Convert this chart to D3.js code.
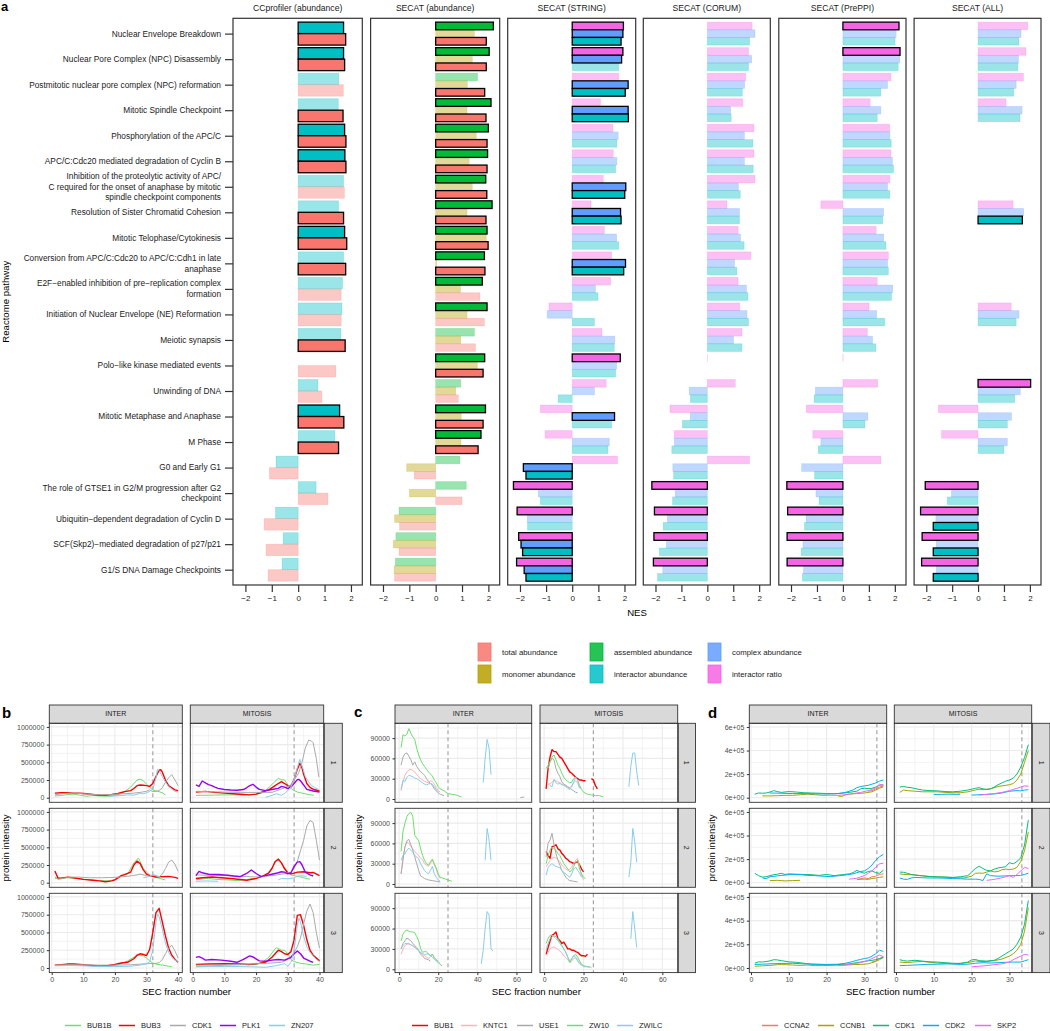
<!DOCTYPE html>
<html><head><meta charset="utf-8">
<script src="https://cdn.jsdelivr.net/npm/d3@7"></script>
<style>body{margin:0;background:#fff}svg{font-family:"Liberation Sans",Arial,Helvetica,sans-serif}</style>
</head><body><svg id="chart" width="1050" height="1031"></svg>
<script>
// ---------------- Panel a data ----------------
const pathways = [
 "Nuclear Envelope Breakdown",
 "Nuclear Pore Complex (NPC) Disassembly",
 "Postmitotic nuclear pore complex (NPC) reformation",
 "Mitotic Spindle Checkpoint",
 "Phosphorylation of the APC/C",
 "APC/C:Cdc20 mediated degradation of Cyclin B",
 "Inhibition of the proteolytic activity of APC/\nC required for the onset of anaphase by mitotic\nspindle checkpoint components",
 "Resolution of Sister Chromatid Cohesion",
 "Mitotic Telophase/Cytokinesis",
 "Conversion from APC/C:Cdc20 to APC/C:Cdh1 in late\nanaphase",
 "E2F\u2212enabled inhibition of pre\u2212replication complex\nformation",
 "Initiation of Nuclear Envelope (NE) Reformation",
 "Meiotic synapsis",
 "Polo\u2212like kinase mediated events",
 "Unwinding of DNA",
 "Mitotic Metaphase and Anaphase",
 "M Phase",
 "G0 and Early G1",
 "The role of GTSE1 in G2/M progression after G2\ncheckpoint",
 "Ubiquitin\u2212dependent degradation of Cyclin D",
 "SCF(Skp2)\u2212mediated degradation of p27/p21",
 "G1/S DNA Damage Checkpoints"
];
const facetNames = ["CCprofiler (abundance)","SECAT (abundance)","SECAT (STRING)","SECAT (CORUM)","SECAT (PrePPI)","SECAT (ALL)"];
const nesTicks = [-2,-1,0,1,2];
const levelNames = ["total abundance","monomer abundance","assembled abundance","interactor abundance","complex abundance","interactor ratio"];
const levelColors = ["#F8766D","#B79F00","#00BA38","#00BFC4","#619CFF","#F564E3"];

const cc_interactor = [1.72,1.72,1.54,1.52,1.76,1.77,1.72,1.53,1.76,1.72,1.68,1.66,1.62,0.0,0.75,1.57,1.39,-0.84,0.68,-0.86,-0.57,-0.61];
const cc_interactor_sig = [1,1,0,0,1,1,0,0,1,0,0,0,0,0,0,1,0,0,0,0,0,0];
const cc_total = [1.80,1.76,1.71,1.70,1.81,1.81,1.75,1.72,1.84,1.80,1.63,1.63,1.78,1.43,0.90,1.73,1.53,-1.09,1.13,-1.29,-1.22,-1.14];
const cc_total_sig = [1,1,0,1,1,1,0,1,1,1,0,0,1,0,0,1,1,0,0,0,0,0];

const sa_assembled = [2.19,2.03,1.59,2.10,2.00,1.97,1.90,2.14,1.95,1.85,1.77,1.95,1.47,1.86,0.95,1.89,1.72,0.92,1.16,-1.39,-1.51,-1.53];
const sa_assembled_sig = [1,1,0,1,1,1,1,1,1,1,1,1,0,1,0,1,1,0,0,0,0,0];
const sa_monomer = [1.47,1.39,1.20,1.19,1.54,1.27,1.39,1.19,1.92,0.04,0.94,1.19,0.95,1.58,0.76,0.97,0.96,-1.10,-1.00,-1.56,-1.61,-1.58];
const sa_monomer_sig = [0,0,0,0,0,0,0,0,0,0,0,0,0,0,0,0,0,0,0,0,0,0];
const sa_total = [1.92,1.92,1.86,1.91,1.95,1.95,1.94,1.91,1.99,1.87,1.68,1.85,1.51,1.80,0.86,1.80,1.61,-0.81,1.00,-1.37,-1.39,-1.56];
const sa_total_sig = [1,1,1,1,1,1,1,1,1,1,0,0,0,1,0,1,1,0,0,0,0,0];

const st_ratio = [1.96,1.94,1.78,1.08,1.56,1.57,1.19,0.72,1.23,1.51,1.47,-0.89,1.14,1.84,1.30,-1.22,-1.04,1.73,-2.25,-2.11,-2.05,-2.13];
const st_ratio_sig = [1,1,0,0,0,0,0,0,0,0,0,0,0,1,0,0,0,0,1,1,1,1];
const st_complex = [1.94,1.89,2.14,2.14,1.76,1.71,2.05,1.85,1.70,2.04,0.89,-0.96,1.63,1.70,0.85,1.62,1.42,-1.87,-1.30,-1.72,-1.96,-1.84];
const st_complex_sig = [1,1,1,1,0,0,1,1,0,1,0,0,0,0,0,1,0,1,0,0,1,1];
const st_interactor = [1.87,1.78,2.03,2.15,1.71,1.66,2.01,1.87,1.78,1.97,0.99,0.85,1.61,1.66,-0.54,1.51,1.37,-1.77,-1.22,-1.71,-1.90,-1.77];
const st_interactor_sig = [1,0,1,1,0,0,1,1,0,1,0,0,0,0,0,0,0,1,0,0,1,1];

const co_ratio = [1.73,1.59,1.48,1.37,1.80,1.80,1.84,0.76,1.19,1.68,1.19,1.25,1.34,0.01,1.08,-1.44,-1.28,1.63,-2.14,-2.04,-2.06,-2.08];
const co_ratio_sig = [0,0,0,0,0,0,0,0,0,0,0,0,0,0,0,0,0,0,1,1,1,1];
const co_complex = [1.84,1.71,1.44,0.90,1.43,1.43,1.20,1.24,1.28,1.05,1.51,1.53,1.01,0,-0.70,-0.66,-1.27,-1.33,-1.24,-1.54,-1.58,-1.72];
const co_complex_sig = [0,0,0,0,0,0,0,0,0,0,0,0,0,0,0,0,0,0,0,0,0,0];
const co_interactor = [1.63,1.59,1.35,0.92,1.76,1.77,1.27,1.24,1.42,1.14,1.57,1.59,1.34,0,-0.65,-0.96,-1.37,-1.30,-1.34,-1.70,-1.85,-1.92];
const co_interactor_sig = [0,0,0,0,0,0,0,0,0,0,0,0,0,0,0,0,0,0,0,0,0,0];

const pp_ratio = [2.16,2.20,1.85,1.05,1.80,1.85,1.81,-0.85,1.28,1.75,1.32,1.01,0.94,0.01,1.34,-1.41,-1.16,1.46,-2.16,-2.13,-2.15,-2.15];
const pp_ratio_sig = [1,1,0,0,0,0,0,0,0,0,0,0,0,0,0,0,0,0,1,1,1,1];
const pp_complex = [2.05,2.19,1.72,1.46,1.81,1.91,1.72,1.57,1.57,1.72,1.92,1.30,1.14,0,-1.06,0.96,-0.85,-1.59,-1.04,-1.42,-1.54,-1.52];
const pp_complex_sig = [0,0,0,0,0,0,0,0,0,0,0,0,0,0,0,0,0,0,0,0,0,0];
const pp_interactor = [2.01,2.13,1.46,1.32,1.86,1.95,1.81,1.53,1.66,1.75,1.87,1.61,1.27,0,-1.11,0.85,-0.95,-1.09,-0.92,-1.48,-1.61,-1.56];
const pp_interactor_sig = [0,0,0,0,0,0,0,0,0,0,0,0,0,0,0,0,0,0,0,0,0,0];

const al_ratio = [1.92,1.85,1.75,1.08,0,0,0,1.35,0,0,0,1.28,0,0,2.03,-1.53,-1.41,0,-2.04,-2.22,-2.16,-2.18];
const al_ratio_sig = [0,0,0,0,0,0,0,0,0,0,0,0,0,0,1,0,0,0,1,1,1,1];
const al_complex = [1.66,1.56,1.47,1.70,0,0,0,1.76,0,0,0,1.58,0,0,1.63,1.29,1.13,0,-1.03,-1.63,-1.62,-1.61];
const al_complex_sig = [0,0,0,0,0,0,0,0,0,0,0,0,0,0,0,0,0,0,0,0,0,0];
const al_interactor = [1.58,1.54,1.38,1.62,0,0,0,1.71,0,0,0,1.47,0,0,1.42,1.13,1.00,0,-1.19,-1.73,-1.73,-1.73];
const al_interactor_sig = [0,0,0,0,0,0,0,1,0,0,0,0,0,0,0,0,0,0,0,1,1,1];

// ---------------- Panels b, c, d data (x = SEC fraction, y = intensity in thousands) ----------------
const conditions = ["INTER","MITOSIS"];
const replicates = ["1","2","3"];
const bProteins = ["BUB1B","BUB3","CDK1","PLK1","ZN207"];
const bColors = ["#6BE06B","#FF0000","#AAAAAA","#9B00F5","#87CEEB"];
const bXTicks = [0,10,20,30,40];
const bYTicks = [0,250000,500000,750000,1000000];
const bCutoff = 32;
const bSeries = [
 ["INTER","1","BUB1B",[1,25,3,30,5,45,7,50,9,35,11,20,13,30,15,25,17,20,19,25,21,40,23,80,25,150,27,250,28,262,29,240,30,190,31,150,32,110,33,95,34,85,35,70,36,40]],
 ["INTER","1","BUB3",[1,65,3,70,5,72,7,65,9,62,11,55,13,45,15,35,17,35,19,45,21,60,23,85,25,100,26,130,27,170,28,180,29,175,30,170,31,160,32,200,33,300,34,390,34.5,395,35,360,36,250,37,170,38,140,39,110,40,100]],
 ["INTER","1","CDK1",[1,40,4,60,7,65,10,55,13,45,16,40,19,45,22,55,25,60,28,75,30,90,31,110,32,85,33,90,34,100,35,140,36,220,37,280,38,325,39,250,40,170]],
 ["INTER","1","ZN207",[18,20,20,25,22,30,24,40,26,35,27,50,28,60,29,55,30,70,31,90,32,120,33,280,33.5,400,34,380,35,300,36,220,37,160,38,120,39,90,40,80]],
 ["MITOSIS","1","BUB1B",[1,33,5,35,10,40,15,40,20,47,22,70,24,140,25.5,210,27,273,28,255,29,250,30,180,31.3,117,33,80,34,70,36,50,38.2,33]],
 ["MITOSIS","1","BUB3",[1,80,4,90,7,75,10,65,13,55,16,45,18,40,20,50,22,80,24,110,26,170,27,200,28,226,29,200,30,170,31,165,32,260,33,400,33.8,486,34.5,420,35,330,36,200,37,146,38,120,40,95]],
 ["MITOSIS","1","CDK1",[1,90,5,85,10,80,15,75,20,75,25,75,27.6,117,30,160,31,180,32,250,33.4,344,34.5,500,35.5,700,36.6,815,37.5,800,38,777,39,550,39.8,292]],
 ["MITOSIS","1","PLK1",[1,180,2,160,3,236,4,210,5,185,6,170,7,150,8,132,10,115,12,109,14,105,16,115,17,140,18,170,19,189,20,150,21,117,23,100,25,115,27,132,28,160,29,150,30,130,31,150,32,200,33,255,33.5,259,34,240,35,180,36,117,38,95,40,80]],
 ["MITOSIS","1","ZN207",[23,5,25,33,26.5,55,28,33,29,60,30,100,31,150,32,260,33,420,33.8,542,34.5,450,35.5,300,36.5,230,37.5,170,38.5,146,39.8,110]],
 ["INTER","2","BUB1B",[1,60,5,70,10,50,15,30,18,25,20,45,22,95,24,120,26,280,27,330,27.5,344,28,300,29,200,30,150,31,110,33,75,35,50,36,38]],
 ["INTER","2","BUB3",[1,165,2,65,3,65,5,78,7,70,10,47,13,35,15,25,17,14,19,25,20,40,22,100,23,115,25,150,26,250,27,305,28,270,29,180,30,120,31,100,32,90,33,80,35,85,37,90,39,75,40,60]],
 ["INTER","2","CDK1",[1,85,2,47,3,55,5,75,8,80,12,70,16,70,20,75,24,90,27,110,28,120,30,100,31,90,32,105,33,100,34,85,35,120,36,200,37,290,38,320,39,260,40,160]],
 ["INTER","2","ZN207",[29,70,31,90,32,115,33,100,34,80,35,70]],
 ["MITOSIS","2","BUB1B",[1,40,3,55,5,60,8,45,11,40,14,30,17,45,20,60,22,90,24,130,26,280,27,345,28,280,29,180,30,140,31,110,33,90,35,70,37,50]],
 ["MITOSIS","2","BUB3",[1,60,3,70,6,80,9,70,12,60,15,45,17,35,20,60,22,90,24,140,25,200,26,300,27,330,28,280,29,200,30,140,31,125,32,135,33,150,35,155,37,140,38,145,40,100]],
 ["MITOSIS","2","CDK1",[1,110,5,105,10,100,15,90,20,80,25,100,28,120,30,140,31,150,32,200,33,300,34,450,35,600,36,800,37,880,38,850,39,600,40,320]],
 ["MITOSIS","2","PLK1",[1,100,2,160,3,140,5,120,8,115,11,105,13,94,15,85,17,130,18.5,180,20,130,21.5,90,23,100,25,120,27,140,28,155,29,150,30,125,31,140,32,230,33,290,33.8,297,34.5,250,35.5,150,37,110,38,95]],
 ["MITOSIS","2","ZN207",[1,20,4,25,8,20,null,null,27,40,28,60,30,55,32,70,33,90,34,100,36,90]],
 ["INTER","3","BUB1B",[1,40,3,45,5,55,8,45,11,35,14,30,17,25,20,35,22,60,24,100,26,150,27,175,28,180,29,170,30,140,31,100,32,70,33,55,35,40,37,25,38,15]],
 ["INTER","3","BUB3",[1,40,3,45,5,55,7,55,10,45,13,35,15,30,18,35,20,50,22,70,24,80,26,130,27,180,28,200,29,190,30,175,31,260,32,500,33,780,34,840,35,650,36,450,37,280,38,180,39,120,40,80]],
 ["INTER","3","CDK1",[1,40,5,45,10,45,15,40,20,40,25,45,30,60,33,65,34,75,35,120,36,200,37,280,38,320,39,240,40,140]],
 ["INTER","3","ZN207",[1,30,5,35,10,30,15,20,20,20,25,25,28,40,30,60,31,90,32,250,33,650,33.5,760,34,720,35,550,36,350,37,220,38,150,39,110,40,90]],
 ["MITOSIS","3","BUB1B",[1,20,5,25,10,40,15,45,20,50,22,80,24,150,26,270,26.5,285,28,250,29,250,30,200,31,120,32,90,34,65,36,55,38,40,40,50]],
 ["MITOSIS","3","BUB3",[1,50,5,55,10,60,15,55,18,50,21,65,23,80,25,150,27,250,28,230,29,200,30,190,31,230,32,400,33,740,34,750,35,600,36,400,37,250,38,180,40,100]],
 ["MITOSIS","3","CDK1",[1,40,5,40,10,45,15,50,20,60,25,70,28,80,30,120,31,160,32,220,33,300,34,420,35,620,36,800,37,900,38,780,39,500,40,280]],
 ["MITOSIS","3","PLK1",[1,150,2,160,3,140,4,110,6,120,9,110,12,95,14,80,16,120,18,170,19,155,21,100,23,95,25,110,27,120,29,110,31,150,32,200,33,240,34,200,35,140,37,95,38,80]],
 ["MITOSIS","3","ZN207",[1,15,5,20,10,20,15,20,20,15,23,10,26,30,28,50,29,60,30,25,31,80,32,250,33,600,33.5,700,34,650,35,450,36,300,37,220,38,170,39,120,40,90]]
];

const cProteins = ["BUB1","KNTC1","USE1","ZW10","ZWILC"];
const cColors = ["#FF0000","#FFB0B8","#AAAAAA","#6BE06B","#87CEEB"];
const cXTicks = [0,20,40,60];
const cYTicks = [0,30000,60000,90000];
const cCutoff = 25;
const cSeries = [
 ["INTER","1","KNTC1",[1,12,2,25,3,35,4,40,5,43,6,44,7,42,8,40,9,36,10,33,11,30,12,28,13,26,14,25,15,24,16,27,17,26,18,22,19,17,20,13,21,10]],
 ["INTER","1","USE1",[1,50,2,62,3,67,4,68,5,63,6,58,7,50,8,55,9,48,10,44,11,40,12,38,13,35,14,30,15,26,16,23,17,20,18,15,19,12,20,9,21,7,23,5,null,null,62,2,64,3]],
 ["INTER","1","ZW10",[1,76,2,95,3,93,4,96,5,104,6,97,7,92,8,88,9,75,10,65,11,58,12,52,13,48,14,44,15,40,16,37,17,34,18,28,19,24,20,18,21,15,23,12,25,8,27,7,29,6,30,5,32,3]],
 ["INTER","1","ZWILC",[1,15,2,28,3,26,4,32,5,35,6,34,7,33,8,31,9,30,10,28,11,26,12,24,13,22,14,21,15,22,16,23,17,22,18,18,19,14,20,10,null,null,43,24,44,60,45,88,46,75,47,36]],
 ["MITOSIS","1","BUB1",[1,15,2,45,3,62,4,73,5,70,6,70,7,66,8,62,9,60,10,55,11,50,12,45,13,40,14,38,15,35,16,32,17,30,18,28,19,28,20,27,21,27,null,null,24,30,25,28,26,20,27,15]],
 ["MITOSIS","1","KNTC1",[2,22,3,22,4,25,5,28,6,27,7,25,8,24,9,22,10,21,11,20,12,18,13,17,14,19,15,24,16,27,17,23,18,16]],
 ["MITOSIS","1","USE1",[2,45,3,55,4,60,5,58,6,45,7,38,8,33,9,25,10,22,11,20,12,18,13,16,14,14,15,12,16,10,17,9]],
 ["MITOSIS","1","ZW10",[1,45,2,50,3,55,4,62,5,65,6,58,7,50,8,45,9,38,10,32,11,28,12,26,13,24,14,25,15,30,16,32,17,28,18,20,19,14,20,10,22,7,24,6,26,5,28,5,30,3]],
 ["MITOSIS","1","ZWILC",[3,20,4,18,5,29,6,24,7,22,8,23,9,21,10,20,11,18,12,16,13,14,14,18,15,25,16,32,17,28,18,16,null,null,43,18,44,48,45,68,46,68,47,40,48,20]],
 ["INTER","2","KNTC1",[1,15,2,40,3,55,4,62,5,60,6,56,7,52,8,48,9,45,10,42,11,38,12,36,13,30,14,28,15,26,16,30,17,35,18,28,19,22,20,12,21,8]],
 ["INTER","2","USE1",[1,15,2,35,3,55,4,64,5,66,6,58,7,50,8,40,9,30,10,20,11,12,12,10,13,8,14,7,15,6,17,5,19,4,21,3]],
 ["INTER","2","ZW10",[1,48,2,78,3,90,4,100,5,104,6,106,7,100,8,72,9,68,10,64,11,52,12,42,13,35,14,30,15,28,16,33,17,37,18,30,19,24,20,15,21,10,23,8,25,6,27,4]],
 ["INTER","2","ZWILC",[1,35,2,42,3,45,4,50,5,53,6,50,7,47,8,42,9,40,10,37,11,30,12,25,13,20,14,17,15,15,16,20,17,26,18,15,19,10,20,6,21,4,null,null,44,35,45,82,46,65,47,35]],
 ["MITOSIS","2","BUB1",[1,48,2,42,3,38,4,55,5,56,6,58,7,52,8,50,9,45,10,42,11,38,12,36,13,33,14,32,15,30,16,32,17,33,18,28,19,22,20,18]],
 ["MITOSIS","2","KNTC1",[1,25,2,30,3,35,4,38,5,40,6,38,7,36,8,33,9,28,10,25,11,22,12,20,13,22,14,25,15,30,16,35,17,38,18,25,19,12,20,6]],
 ["MITOSIS","2","USE1",[1,40,2,60,3,65,4,75,5,58,6,45,7,35,8,28,9,20,10,15,11,10,12,7,13,5,15,4,17,3]],
 ["MITOSIS","2","ZW10",[1,30,2,42,3,50,4,55,5,52,6,50,7,45,8,42,9,36,10,30,11,26,12,22,13,18,14,20,15,26,16,32,17,35,18,22,19,15,20,10,21,8]],
 ["MITOSIS","2","ZWILC",[1,13,2,24,3,28,4,30,5,28,6,26,7,25,8,24,9,20,10,17,11,15,12,12,13,10,14,15,15,22,16,25,17,20,18,16,19,10,null,null,43,10,44,32,45,82,46,62,47,32]],
 ["INTER","3","KNTC1",[1,22,2,30,3,35,4,37,5,37,6,36,7,34,8,32,9,30,10,27,11,25,12,22,13,20,14,18,15,16,16,18,17,22,18,17,19,14,20,12]],
 ["INTER","3","USE1",[1,30,2,38,3,42,4,46,5,44,6,42,7,38,8,35,9,32,10,28,11,22,12,20,13,16,14,15,15,14,16,12]],
 ["INTER","3","ZW10",[1,42,2,52,3,56,4,58,5,56,6,55,7,55,8,54,9,48,10,42,11,30,12,25,13,26,14,26,15,22,16,20,17,22,18,17,19,14,20,10,21,7,22,5]],
 ["INTER","3","ZWILC",[1,30,2,35,3,38,4,38,5,38,6,36,7,35,8,33,9,30,10,27,11,25,12,23,13,22,14,22,15,23,16,20,17,18,18,15,19,12,20,10,21,9,null,null,42,8,43,28,44,60,45,85,46,80,47,30,48,27]],
 ["MITOSIS","3","BUB1",[1,22,2,32,3,42,4,50,5,52,6,55,7,45,8,42,9,38,10,40,11,35,12,30,13,30,14,28,15,28,16,26,17,25,18,22,19,20,20,20,21,19,22,22]],
 ["MITOSIS","3","KNTC1",[1,20,2,25,3,30,4,32,5,33,6,31,7,29,8,27,9,24,10,20,11,17,12,14,13,10,14,12,15,16,16,17,17,13,18,10,19,6,21,3]],
 ["MITOSIS","3","ZW10",[1,38,2,45,3,50,4,50,5,49,6,48,7,45,8,40,9,35,10,30,11,25,12,18,13,10,14,15,15,20,16,22,17,18,18,12,19,8,20,5,22,4,24,3]],
 ["MITOSIS","3","ZWILC",[1,28,2,38,3,45,4,48,5,48,6,45,7,42,8,38,9,34,10,30,11,25,12,18,13,12,14,16,15,20,16,18,17,12,18,8,19,6,21,4,23,3,null,null,44,45,45,85,46,60,47,32]]
];

const dProteins = ["CCNA2","CCNB1","CDK1","CDK2","SKP2"];
const dColors = ["#F8766D","#A3A500","#00BF7D","#00B0F6","#E76BF3"];
const dXTicks = [0,10,20,30];
const dYTicks = [0,200000,400000,600000];
const dYLabels = ["0e+00","2e+05","4e+05","6e+05"];
const dCutoff = 33.3;
const dSeries = [
 ["INTER","1","CCNA2",[31,55,32,60,33,75,34,90,35,100]],
 ["INTER","1","CCNB1",[3,15,5,15,7,17,9,20,11,20,13,25,15,30,17,25,19,20,21,22,null,null,23,15,24,10,25,25,26,30,28,35,30,40,32,50,33,65,34,80,35,92]],
 ["INTER","1","CDK1",[1,30,2,40,3,38,4,40,5,48,6,60,7,52,8,45,10,52,12,48,14,42,16,40,18,38,20,35,22,33,24,38,26,45,28,55,29,75,30,80,31,78,32,80,33,90,34,105,35,110]],
 ["INTER","1","CDK2",[5,40,8,38,11,35,14,35,17,33,20,32,23,35,25,45,27,65,28,85,29,95,30,100,31,105,32,115,33,125,34,140,35,150]],
 ["INTER","1","SKP2",[21,20,23,20,25,25,27,35,29,45,31,60,32,70,33,85,34,115,35,105]],
 ["MITOSIS","1","CCNB1",[1,45,2,65,3,60,5,55,7,50,9,50,11,50,13,45,15,42,17,42,19,50,21,65,22,72,23,68,25,75,27,95,29,105,30,110,31,120,32,150,33,200,34,300,35,400]],
 ["MITOSIS","1","CDK1",[1,90,2,95,3,88,4,85,5,78,7,65,9,60,11,58,13,52,15,50,17,55,19,65,21,80,22,85,23,75,24,70,25,75,26,90,27,110,28,125,29,140,30,150,31,165,32,200,33,260,34,340,35,450]],
 ["MITOSIS","1","CDK2",[10,28,12,28,14,30,16,28,17,30,null,null,20,22,22,25,24,28,26,32,28,40,30,55,32,60,33,58,34,65,35,68]],
 ["MITOSIS","1","SKP2",[22,22,24,28,26,35,28,45,30,60,31,70,32,80,33,90,34,100,35,98]],
 ["INTER","2","CCNA2",[28,25,29,35,30,40,31,35,32,50,33,55,34,70,35,75]],
 ["INTER","2","CCNB1",[5,18,7,20,9,15,11,18,13,20,null,null,28,28,30,30,31,28,32,35,33,40,34,45,35,50]],
 ["INTER","2","CDK1",[1,80,2,60,3,48,4,50,5,60,6,68,7,72,8,80,9,70,10,75,12,72,14,70,16,68,18,62,20,70,22,60,24,68,26,75,27,85,28,105,29,90,30,80,31,95,32,100,33,85,34,80,35,105]],
 ["INTER","2","CDK2",[3,40,4,35,5,50,7,58,9,65,11,70,13,68,15,62,17,60,19,55,21,52,23,58,25,65,27,75,29,95,30,100,31,120,32,150,33,190,34,220,35,240]],
 ["INTER","2","SKP2",[26,30,28,38,29,50,30,60,31,80,32,100,33,130,34,160,35,165]],
 ["MITOSIS","2","CCNB1",[1,75,2,70,4,68,6,62,8,55,10,50,12,48,14,45,16,42,18,40,20,55,21,80,22,82,23,80,24,90,25,100,26,92,27,95,28,110,29,115,30,112,31,115,32,130,33,180,34,270,35,430]],
 ["MITOSIS","2","CDK1",[1,90,2,88,3,80,4,70,5,65,7,58,9,52,11,50,13,48,15,45,17,50,19,60,20,90,21,120,22,140,23,120,24,105,25,100,26,115,27,125,28,130,29,135,30,170,31,160,32,180,33,210,34,320,35,530]],
 ["MITOSIS","2","CDK2",[1,40,2,30,3,28,4,40,5,45,7,42,9,40,11,40,13,38,15,35,17,33,19,30,21,30,22,28,23,18,24,75,25,60,27,55,29,58,31,60,33,62,34,70,35,80]],
 ["MITOSIS","2","SKP2",[24,20,26,28,28,42,29,50,30,60,31,45,32,70,33,100,34,130,35,120]],
 ["INTER","3","CCNA2",[32,50,33,60,34,80,35,90]],
 ["INTER","3","CCNB1",[1,15,3,18,5,22,7,28,9,28,11,25,13,22,15,25,17,20,19,20,21,22,23,25,25,25,27,28,29,30,31,35,32,45,33,55,34,70,35,90]],
 ["INTER","3","CDK1",[1,40,2,52,3,50,4,55,5,60,6,70,7,68,8,62,10,52,12,48,14,40,16,32,18,30,20,28,22,27,24,30,26,35,28,45,30,55,31,60,32,65,33,70,34,80,35,90]],
 ["INTER","3","CDK2",[1,30,3,32,5,35,8,38,11,40,14,35,17,32,20,30,23,32,25,40,27,55,28,65,29,72,30,80,31,85,32,100,33,120,34,150,35,140]],
 ["INTER","3","SKP2",[23,20,25,25,27,35,29,45,31,65,32,80,33,95,34,110,35,95]],
 ["MITOSIS","3","CCNB1",[1,50,3,45,5,52,7,55,9,48,11,42,13,38,15,35,17,40,19,45,21,60,22,55,24,55,26,62,28,75,30,100,31,120,32,150,33,200,34,310,35,510]],
 ["MITOSIS","3","CDK1",[1,70,2,62,3,58,4,62,5,65,7,58,9,52,11,50,13,45,15,40,17,38,19,50,20,68,21,72,22,62,24,58,26,65,27,80,28,100,29,120,30,140,31,160,32,200,33,260,34,370,35,570]],
 ["MITOSIS","3","CDK2",[1,20,3,22,5,25,8,30,11,32,14,35,17,30,19,32,21,40,23,45,25,42,27,45,29,48,31,50,33,50,34,60,35,70]],
 ["MITOSIS","3","SKP2",[20,10,22,15,24,20,26,28,28,35,30,50,31,70,32,85,33,100,34,115,35,110]]
];

// ---------------- Drawing ----------------
const svg = d3.select("#chart");
svg.append("rect").attr("width",1050).attr("height",1031).attr("fill","#fff");
const colorOf = n => levelColors[levelNames.indexOf(n)];

// Panel a
const facetLeft = [233,370.6,507.7,643.3,778.8,914.1];
const facetRight = [362.3,499.7,635.7,770.3,906,1041];
const aTop = 18.3, aBottom = 585;
const yA = d3.scalePoint().domain(pathways).range([aTop,aBottom]).padding(0.6);
const step = yA.step();
const facetSeries = [
 [["interactor abundance",cc_interactor,cc_interactor_sig],["total abundance",cc_total,cc_total_sig]],
 [["assembled abundance",sa_assembled,sa_assembled_sig],["monomer abundance",sa_monomer,sa_monomer_sig],["total abundance",sa_total,sa_total_sig]],
 [["interactor ratio",st_ratio,st_ratio_sig],["complex abundance",st_complex,st_complex_sig],["interactor abundance",st_interactor,st_interactor_sig]],
 [["interactor ratio",co_ratio,co_ratio_sig],["complex abundance",co_complex,co_complex_sig],["interactor abundance",co_interactor,co_interactor_sig]],
 [["interactor ratio",pp_ratio,pp_ratio_sig],["complex abundance",pp_complex,pp_complex_sig],["interactor abundance",pp_interactor,pp_interactor_sig]],
 [["interactor ratio",al_ratio,al_ratio_sig],["complex abundance",al_complex,al_complex_sig],["interactor abundance",al_interactor,al_interactor_sig]]
];

svg.append("text").attr("x",1).attr("y",11).attr("font-size",13).attr("font-weight","bold").text("a");

facetNames.forEach((fname,fi)=>{
  const x = d3.scaleLinear().domain([-2.47,2.43]).range([facetLeft[fi],facetRight[fi]]);
  const g = svg.append("g");
  g.append("text").attr("x",(facetLeft[fi]+facetRight[fi])/2).attr("y",8).attr("dy","0.35em")
   .attr("text-anchor","middle").attr("font-size",8.6).attr("fill","#1a1a1a").text(fname);
  const ser = facetSeries[fi];
  const k = ser.length, bh = step*0.9/k;
  const bars = [];
  ser.forEach((s,j)=>{
    pathways.forEach((p,pi)=>{
      bars.push({name:s[0], v:s[1][pi], sig:s[2][pi], y:yA(p)-step*0.45+j*bh});
    });
  });
  const drawBar = b => {
    const x0 = x(Math.min(0,b.v)), w = Math.abs(x(b.v)-x(0));
    const r = g.append("rect").attr("x",x0).attr("y",b.y).attr("width",w).attr("height",bh).attr("fill",colorOf(b.name));
    if (b.sig) r.attr("stroke","#000").attr("stroke-width",1.3);
    else r.attr("fill-opacity",0.4).attr("stroke",colorOf(b.name)).attr("stroke-opacity",0.25).attr("stroke-width",0.7);
  };
  bars.filter(b=>!b.sig).forEach(drawBar);
  bars.filter(b=>b.sig).forEach(drawBar);
  g.append("rect").attr("x",facetLeft[fi]).attr("y",aTop).attr("width",facetRight[fi]-facetLeft[fi]).attr("height",aBottom-aTop)
   .attr("fill","none").attr("stroke","#333").attr("stroke-width",1.2);
  const ax = g.append("g").attr("transform",`translate(0,${aBottom})`)
   .call(d3.axisBottom(x).tickValues(nesTicks).tickSize(7).tickPadding(3).tickFormat(d=> d<0 ? "\u2212"+Math.abs(d) : String(d)));
  ax.select(".domain").remove();
  ax.selectAll("line").attr("stroke","#333").attr("stroke-width",1.2);
  ax.selectAll("text").attr("font-size",8).attr("fill","#1a1a1a").attr("font-family",null);
});
// y axis of panel a
{
  const ay = svg.append("g").attr("transform",`translate(${facetLeft[0]},0)`)
    .call(d3.axisLeft(yA).tickSize(8).tickFormat(""));
  ay.select(".domain").remove();
  ay.selectAll("line").attr("stroke","#333").attr("stroke-width",1.2);
  pathways.forEach(p=>{
    const lines = p.split("\n");
    const t = svg.append("text").attr("text-anchor","end").attr("font-size",8.3).attr("fill","#1a1a1a");
    lines.forEach((ln,li)=>{
      t.append("tspan").attr("x",221).attr("y",yA(p)+(li-(lines.length-1)/2)*10.6).attr("dy","0.35em").text(ln);
    });
  });
  svg.append("text").attr("transform",`translate(9,${(aTop+aBottom)/2}) rotate(-90)`).attr("text-anchor","middle")
    .attr("font-size",9.6).text("Reactome pathway");
  svg.append("text").attr("x",637).attr("y",613).attr("dy","0.35em").attr("text-anchor","middle").attr("font-size",9.6).text("NES");
}
// legend a
{
  const colX = [478,590,708];
  const order = [[0,0],[1,0],[0,1],[1,1],[0,2],[1,2]]; // [row,col]
  levelNames.forEach((n,i)=>{
    const [r,c] = order[i];
    const yy = 643 + r*22;
    svg.append("rect").attr("x",colX[c]).attr("y",yy).attr("width",13).attr("height",18)
      .attr("fill",levelColors[i]).attr("fill-opacity",0.85).attr("stroke",levelColors[i]).attr("stroke-width",0.8);
    svg.append("text").attr("x",colX[c]+24).attr("y",yy+9).attr("dy","0.35em").attr("font-size",7.8).attr("fill","#1a1a1a").text(n);
  });
}

// Facet grids b, c, d
const rowsY = [[723.3,802.3],[808.3,887.3],[893.3,972.6]];
function facetGrid(cfg){
  const g = svg.append("g");
  g.append("text").attr("x",cfg.label[1]).attr("y",cfg.label[2]).attr("font-size",15).attr("font-weight","bold").text(cfg.label[0]);
  conditions.forEach((cond,ci)=>{
    const col = cfg.cols[ci];
    const x = d3.scaleLinear().domain(cfg.xDomain).range(col);
    g.append("rect").attr("x",col[0]).attr("y",705).attr("width",col[1]-col[0]).attr("height",rowsY[0][0]-705)
      .attr("fill","#D9D9D9").attr("stroke","#333").attr("stroke-width",0.9);
    g.append("text").attr("x",(col[0]+col[1])/2).attr("y",714).attr("dy","0.35em").attr("text-anchor","middle")
      .attr("font-size",7).attr("fill","#1a1a1a").text(cond);
    replicates.forEach((rep,ri)=>{
      const ry = rowsY[ri];
      const y = d3.scaleLinear().domain(cfg.yDomain).range([ry[1],ry[0]]);
      const pg = g.append("g");
      const xt = cfg.xTicks, yt = cfg.yTicks;
      const xMinor = xt.slice(0,-1).map((v,i)=>(v+xt[i+1])/2).concat([xt[xt.length-1]+(xt[1]-xt[0])/2]).filter(v=>v>cfg.xDomain[0]&&v<cfg.xDomain[1]);
      const yMinor = yt.slice(0,-1).map((v,i)=>(v+yt[i+1])/2).concat([yt[yt.length-1]+(yt[1]-yt[0])/2]).filter(v=>v>cfg.yDomain[0]&&v<cfg.yDomain[1]);
      xMinor.forEach(v=>pg.append("line").attr("x1",x(v)).attr("x2",x(v)).attr("y1",ry[0]).attr("y2",ry[1]).attr("stroke","#EBEBEB").attr("stroke-width",0.6));
      yMinor.forEach(v=>pg.append("line").attr("x1",col[0]).attr("x2",col[1]).attr("y1",y(v)).attr("y2",y(v)).attr("stroke","#EBEBEB").attr("stroke-width",0.6));
      xt.forEach(v=>pg.append("line").attr("x1",x(v)).attr("x2",x(v)).attr("y1",ry[0]).attr("y2",ry[1]).attr("stroke","#EBEBEB").attr("stroke-width",1.1));
      yt.forEach(v=>pg.append("line").attr("x1",col[0]).attr("x2",col[1]).attr("y1",y(v)).attr("y2",y(v)).attr("stroke","#EBEBEB").attr("stroke-width",1.1));
      pg.append("line").attr("x1",x(cfg.cutoff)).attr("x2",x(cfg.cutoff)).attr("y1",ry[0]).attr("y2",ry[1])
        .attr("stroke","#A6A6A6").attr("stroke-width",1.2).attr("stroke-dasharray","4,3");
      const line = d3.line().defined(d=>d[1]!=null).x(d=>x(d[0])).y(d=>y(d[1]*1000));
      cfg.proteins.forEach((prot,pi)=>{
        cfg.series.filter(s=>s[0]===cond && s[1]===rep && s[2]===prot).forEach(s=>{
          const arr = s[3], pts = [];
          for (let i=0;i<arr.length;i+=2) pts.push([arr[i],arr[i+1]]);
          pg.append("path").attr("d",line(pts)).attr("fill","none").attr("stroke",cfg.colors[pi])
            .attr("stroke-width",cfg.widths[pi]).attr("stroke-linejoin","round");
        });
      });
      pg.append("rect").attr("x",col[0]).attr("y",ry[0]).attr("width",col[1]-col[0]).attr("height",ry[1]-ry[0])
        .attr("fill","none").attr("stroke","#333").attr("stroke-width",0.9);
      if (ci===0){
        const ay = pg.append("g").attr("transform",`translate(${col[0]},0)`)
          .call(d3.axisLeft(y).tickValues(yt).tickSize(2.5).tickPadding(2.5).tickFormat((d,i)=>cfg.yLabels[i]));
        ay.select(".domain").remove();
        ay.selectAll("line").attr("stroke","#333");
        ay.selectAll("text").attr("font-size",7).attr("fill","#4D4D4D").attr("font-family",null);
      }
      if (ri===2){
        const ax = pg.append("g").attr("transform",`translate(0,${ry[1]})`)
          .call(d3.axisBottom(x).tickValues(xt).tickSize(2.5).tickPadding(1.5));
        ax.select(".domain").remove();
        ax.selectAll("line").attr("stroke","#333");
        ax.selectAll("text").attr("font-size",7).attr("fill","#4D4D4D").attr("font-family",null);
      }
      if (ci===1){
        g.append("rect").attr("x",cfg.strip[0]).attr("y",ry[0]).attr("width",cfg.strip[1]-cfg.strip[0]).attr("height",ry[1]-ry[0])
          .attr("fill","#D9D9D9").attr("stroke","#333").attr("stroke-width",0.9);
        g.append("text").attr("transform",`translate(${(cfg.strip[0]+cfg.strip[1])/2},${(ry[0]+ry[1])/2}) rotate(90)`)
          .attr("text-anchor","middle").attr("dy","0.35em").attr("font-size",7).attr("fill","#1a1a1a").text(rep);
      }
    });
  });
  const cx = (cfg.cols[0][0]+cfg.cols[1][1])/2;
  g.append("text").attr("x",cx).attr("y",992).attr("dy","0.35em").attr("text-anchor","middle").attr("font-size",9.6).text("SEC fraction number");
  g.append("text").attr("transform",`translate(${cfg.yTitleX},${(rowsY[0][0]+rowsY[2][1])/2}) rotate(-90)`)
    .attr("text-anchor","middle").attr("font-size",9.6).text("protein intensity");
  // legend
  cfg.proteins.forEach((prot,pi)=>{
    const lx = cfg.legendX[pi];
    g.append("line").attr("x1",lx).attr("x2",lx+16).attr("y1",1025.5).attr("y2",1025.5).attr("stroke",cfg.colors[pi]).attr("stroke-width",1.5);
    g.append("text").attr("x",lx+22).attr("y",1025.5).attr("dy","0.35em").attr("font-size",7.5).attr("fill","#1a1a1a").text(prot);
  });
}

facetGrid({label:["b",2,718], cols:[[49.3,182.3],[190.3,323.7]], strip:[324.3,342.3],
  xDomain:[-0.76,41.33], yDomain:[-65000,1051000], xTicks:bXTicks, yTicks:bYTicks, yLabels:bYTicks.map(String),
  cutoff:bCutoff, series:bSeries, proteins:bProteins, colors:bColors, widths:[1,1.4,1,1.4,1],
  yTitleX:9, legendX:[65,119,170,220,269]});
facetGrid({label:["c",354,717], cols:[[395,531.7],[540,677.7]], strip:[678.3,695.5],
  xDomain:[-2.1,67.8], yDomain:[-4900,111900], xTicks:cXTicks, yTicks:cYTicks, yLabels:cYTicks.map(String),
  cutoff:cCutoff, series:cSeries, proteins:cProteins, colors:cColors, widths:[1.4,1,1,1,1],
  yTitleX:362, legendX:[412,461,517,567,617]});
facetGrid({label:["d",708,718], cols:[[749.3,886.7],[894.3,1031.7]], strip:[1032.3,1050],
  xDomain:[-0.45,35.9], yDomain:[-39000,631000], xTicks:dXTicks, yTicks:dYTicks, yLabels:dYLabels,
  cutoff:dCutoff, series:dSeries, proteins:dProteins, colors:dColors, widths:[1,1,1,1,1],
  yTitleX:715, legendX:[762,818,873,923,975]});
</script></body></html>
